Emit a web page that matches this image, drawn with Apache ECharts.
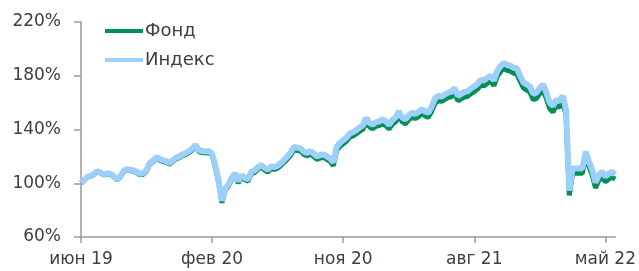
<!DOCTYPE html>
<html>
<head>
<meta charset="utf-8">
<script src="https://cdn.jsdelivr.net/npm/echarts@6/dist/echarts.min.js"></script>
<style>
    html, body { margin: 0; padding: 0; background: #fff; }
    #main { width: 639px; height: 271px; }
</style>
</head>
<body>
<div id="main"></div>
<script>
    // подписи оси X (каждая 40-я точка)
    var tickLabels = ['июн 19', 'фев 20', 'ноя 20', 'авг 21', 'май 22'];
    var tickStep = 40;

    // Индекс, % (~раз в неделю)
    var indexValues = [
        100, 102.5, 105, 105.5, 107, 109, 108, 106.5, 107.5, 107,
        105, 103, 105, 109, 110.5, 110, 109.5, 108.5, 107, 107.5,
        110, 115, 117, 119.5, 118, 117, 116.5, 115, 117, 119,
        120, 121.5, 122.5, 124, 126, 128.5, 124.5, 124, 123.5, 124,
        122, 113, 102, 87, 96, 99, 104, 107.5, 101.5, 106,
        104, 103, 108.5, 109.5, 112, 113.5, 111.5, 110, 112.5, 112,
        113, 115, 117.5, 120, 123, 127, 126.5, 126, 123.5, 122.5,
        124, 122, 120, 121, 121.5, 120, 118.5, 115.5, 127, 130,
        132, 134, 137, 138, 139.5, 141.5, 143, 148.5, 145, 143.5,
        145.5, 146, 147.5, 146, 143.5, 147, 149, 153.5, 149, 147.5,
        150.5, 152.5, 151.5, 153, 155, 153.5, 152.5, 157, 163, 165,
        164.5, 166, 167.5, 168, 171, 165, 166.5, 168, 168.5, 170.5,
        172, 174, 177, 176.5, 178.5, 180, 176.5, 183.5, 187, 189.5,
        188, 187.5, 186, 185.5, 180, 175, 173.5, 172, 166.5, 167.5,
        171, 173.5, 167.5, 160, 157.5, 162, 161, 165, 155, 94.5,
        111, 111, 111, 111, 123.5, 116, 110, 100.5, 106, 108.5,
        105, 107, 108.5, 106.5
    ];

    // Фонд, %
    var fundValues = [
        100, 102.3, 104.7, 105.2, 106.7, 108.6, 107.6, 106.1, 107.1, 106.6,
        104.6, 102.6, 104.5, 108.4, 109.9, 109.4, 108.8, 107.8, 106.2, 106.7,
        109.2, 114.2, 116.2, 118.7, 117.1, 116.1, 115.6, 114.1, 116.1, 118.1,
        119.0, 120.5, 121.4, 122.9, 124.9, 127.4, 123.4, 122.9, 122.4, 122.9,
        120.9, 111.8, 100.7, 85.5, 94.8, 97.8, 102.8, 106.3, 100.2, 104.7,
        102.7, 101.6, 107.1, 108.0, 110.5, 111.9, 109.9, 108.3, 110.8, 110.3,
        111.3, 113.2, 115.6, 118.1, 121.0, 125.0, 124.4, 123.9, 121.4, 120.4,
        121.8, 119.8, 117.8, 118.8, 119.2, 117.7, 116.2, 113.1, 124.5, 127.4,
        129.4, 131.4, 134.3, 135.3, 136.7, 138.7, 140.1, 145.5, 142.0, 140.5,
        142.4, 142.9, 144.4, 142.9, 140.4, 143.8, 145.8, 150.3, 145.8, 144.2,
        147.2, 149.2, 148.2, 149.6, 151.6, 150.1, 149.0, 153.5, 159.4, 161.4,
        160.9, 162.4, 163.8, 164.3, 167.3, 161.3, 162.8, 164.2, 164.7, 166.7,
        168.2, 170.1, 173.1, 172.6, 174.6, 176.1, 172.6, 179.5, 183.0, 185.5,
        184.0, 183.4, 181.9, 181.4, 175.9, 170.9, 169.3, 167.8, 162.2, 163.2,
        166.7, 169.2, 163.1, 155.6, 153.0, 157.6, 156.6, 160.6, 151.0, 91,
        107.5, 107.5, 107.5, 107.5, 120, 112.5, 106, 96.5, 102, 104.5,
        101, 103, 104.5, 103
    ];

    var categories = [];
    for (var i = 0; i < indexValues.length; i++) {
        categories.push(i);
    }

    var font = 'DejaVu Sans';
    var textColor = '#3b4045';
    var axisColor = '#9a9a9a';

    var myChart = echarts.init(document.getElementById('main'), null, {renderer: 'canvas'});

    var option = {
        animation: false,
        grid: {
            left: 81,
            right: 23,
            top: 22,
            bottom: 34
        },
        legend: {
            orient: 'vertical',
            left: 105,
            top: 21,
            itemGap: 9,
            itemWidth: 38,
            itemHeight: 4,
            padding: 0,
            icon: 'rect',
            textStyle: {
                fontFamily: font,
                fontSize: 18,
                color: textColor,
                lineHeight: 20,
                padding: [0, 0, 0, -3]
            },
            data: ['Фонд', 'Индекс']
        },
        xAxis: {
            type: 'category',
            boundaryGap: false,
            data: categories,
            axisLine: {
                lineStyle: {color: axisColor, width: 1.5}
            },
            axisTick: {
                show: true,
                interval: tickStep - 1,
                length: 6,
                lineStyle: {color: axisColor, width: 1.5}
            },
            axisLabel: {
                interval: tickStep - 1,
                margin: 14,
                fontFamily: font,
                fontSize: 17,
                color: textColor,
                formatter: function (value, idx) {
                    return tickLabels[Math.round(idx / tickStep)] || '';
                }
            },
            splitLine: {show: false}
        },
        yAxis: {
            type: 'value',
            min: 60,
            max: 220,
            interval: 40,
            axisLine: {
                show: true,
                lineStyle: {color: axisColor, width: 1.5}
            },
            axisTick: {
                show: true,
                length: 7,
                lineStyle: {color: axisColor, width: 1.5}
            },
            axisLabel: {
                margin: 20,
                fontFamily: font,
                fontSize: 17,
                color: textColor,
                formatter: '{value}%'
            },
            splitLine: {show: false}
        },
        series: [
            {
                name: 'Фонд',
                type: 'line',
                data: fundValues,
                showSymbol: false,
                color: '#008f55',
                lineStyle: {width: 5, color: '#008f55'}
            },
            {
                name: 'Индекс',
                type: 'line',
                data: indexValues,
                showSymbol: false,
                color: '#9dcffb',
                lineStyle: {width: 6, color: '#9dcffb'}
            }
        ]
    };

    myChart.setOption(option);
</script>
</body>
</html>
